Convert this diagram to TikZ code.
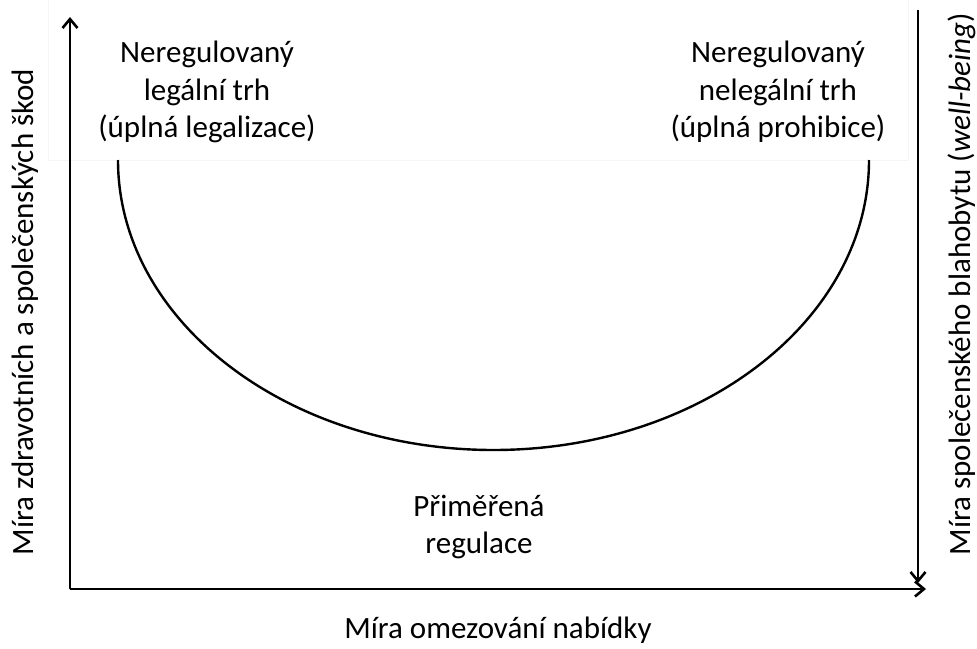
\documentclass[tikz,border=0pt]{standalone}
\usepackage{fontspec}
\setmainfont{Carlito}
\usetikzlibrary{arrows.meta}
\begin{document}
\begin{tikzpicture}[x=1pt,y=-1pt,
  axis/.style={line width=2.8pt,-{Straight Barb[length=9pt,width=15pt,line width=2.6pt]}},
  curve/.style={line width=2.4pt},
  lbl/.style={font=\fontsize{31}{37.5}\selectfont,align=center,inner sep=0pt},
  faint/.style={draw=black!4,line width=0.6pt}]
\useasboundingbox (0,0) rectangle (977,648);
\draw[faint] (48,-2) -- (48,160) -- (908,160) -- (908,-2);
\coordinate (O) at (70,589);
\coordinate (ytip) at (70,17);
\coordinate (xtip) at (926,589);
\coordinate (rtop) at (918,10);
\coordinate (rbot) at (918,583);
\coordinate (cstart) at (118,160);
\draw[axis] (O) -- (ytip);
\draw[axis] (O) -- (xtip);
\draw[axis] (rtop) -- (rbot);
\draw[curve] (cstart) arc[start angle=180,end angle=0,x radius=375.5,y radius=290];
\node[lbl] (ul) at (207,92) {Neregulovaný\\legální trh\\(úplná legalizace)};
\node[lbl] (ur) at (778,92) {Neregulovaný\\nelegální trh\\(úplná prohibice)};
\node[lbl] (mid) at (479,527) {Přiměřená\\regulace};
\node[lbl,anchor=base] (xl) at (498,638) {Míra omezování nabídky};
\node[lbl,anchor=base,rotate=90] (yl) at (33,312) {Míra zdravotních a společenských škod};
\node[lbl,anchor=base,rotate=90] (yr) at (970,284) {Míra společenského blahobytu (\textit{well-being})};
\end{tikzpicture}
\end{document}
